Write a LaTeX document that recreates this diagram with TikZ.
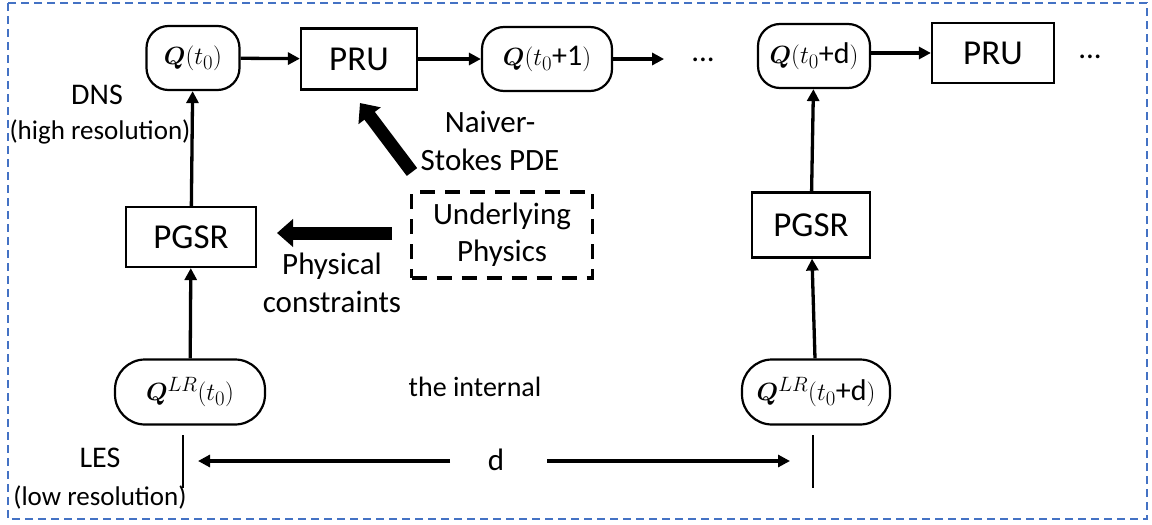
\documentclass[tikz,border=0pt]{standalone}
\usepackage{amsmath,bm}
\usepackage{fontspec}
\setmainfont{Carlito}
\usetikzlibrary{arrows.meta}
\definecolor{frameblue}{HTML}{4472C4}
\tikzset{
  state/.style={draw, line width=2.2pt, rounded corners=22pt, inner sep=0pt,
    font=\fontsize{30}{32}\selectfont},
  lrstate/.style={state, rounded corners=30pt},
  unit/.style={draw, line width=2.2pt, inner sep=0pt, font=\fontsize{35}{37}\selectfont},
  physbox/.style={draw, line width=3.5pt, dash pattern=on 15pt off 10pt, inner sep=0pt,
    align=center, font=\fontsize{31}{37}\selectfont},
  lbl/.style={inner sep=0pt, align=center, font=\fontsize{31}{38}\selectfont},
  small/.style={inner sep=0pt, font=\fontsize{27}{29}\selectfont},
  flow/.style={line width=3.3pt, -{Triangle[length=12pt,width=12pt]}},
  bigflow/.style={line width=13pt, -{Triangle[length=16pt,width=27pt]}},
  tick/.style={line width=2pt},
}
\begin{document}
\begin{tikzpicture}[x=1pt,y=-1pt]
\useasboundingbox (0,0) rectangle (1152,525);
% outer frame
\draw[frameblue, line width=2pt, dash pattern=on 8pt off 5pt] (8,3) rectangle (1147,519);

% high-resolution chain
\node[state, minimum width=93pt, minimum height=64pt] (q0) at (193,58) {$\bm{Q}(t_0)$};
\node[unit, minimum width=116pt, minimum height=61pt] (pru1) at (359,59) {PRU};
\node[state, minimum width=130pt, minimum height=64pt] (q1) at (547,59) {$\bm{Q}(t_0\text{+1})$};
\node[lbl] (dots1) at (703,60) {...};
\node[state, minimum width=112pt, minimum height=64pt] (qd) at (814,56) {$\bm{Q}(t_0\text{+d})$};
\node[unit, minimum width=122pt, minimum height=60pt] (pru2) at (993,53) {PRU};
\node[lbl] (dots2) at (1090,57) {...};

% super-resolution blocks
\node[unit, minimum width=130pt, minimum height=60pt] (pgsr1) at (191,237) {PGSR};
\node[unit, minimum width=118pt, minimum height=65pt] (pgsr2) at (811,225) {PGSR};

% low-resolution inputs
\node[lrstate, minimum width=150pt, minimum height=65pt] (lr0) at (190,392) {$\bm{Q}^{LR}(t_0)$};
\node[lrstate, minimum width=148pt, minimum height=65pt] (lrd) at (816,392) {$\bm{Q}^{LR}(t_0\text{+d})$};

% physics source
\node[physbox, minimum width=181pt, minimum height=86pt] (phys) at (502,235) {Underlying\\Physics};

% labels
\node[lbl, font=\fontsize{30}{32}\selectfont] (dns) at (97,95) {DNS};
\node[small] (hr) at (100,132) {(high resolution)};
\node[lbl, font=\fontsize{30}{32}\selectfont] (les) at (100,458) {LES};
\node[small] (lres) at (100,497) {(low resolution)};
\node[lbl] (ns) at (490,141) {Naiver-\\Stokes PDE};
\node[lbl] (pc) at (332,283) {Physical\\constraints};
\node[lbl, font=\fontsize{28}{30}\selectfont] (internal) at (475,387) {the internal};
\node[lbl] (d) at (496,460) {d};

% interval ticks
\coordinate (tlT) at (183,435); \coordinate (tlB) at (183,488);
\coordinate (trT) at (813,435); \coordinate (trB) at (813,488);
\coordinate (tl) at (183,461); \coordinate (tr) at (813,461);
\draw[tick] (tlT) -- (tlB);
\draw[tick] (trT) -- (trB);

% chain arrows
\draw[flow] (q0) -- (pru1);
\draw[flow] (pru1) -- (q1);
\draw[flow] (q1.east) -- ++(51,0) coordinate (q1out);
\draw[flow] (qd.east |- pru2.west) -- (pru2.west);
\draw[flow] (pgsr1) -- (q0);
\draw[flow] (lr0) -- (pgsr1);
\draw[flow] (pgsr2) -- (qd);
\draw[flow] (lrd) -- (pgsr2);

% physics arrows
\coordinate (physL) at (392,233);
\coordinate (physTL) at (412,172);
\coordinate (pgsrIn) at (277,233);
\coordinate (pruIn) at (360,103);
\draw[bigflow] (physL) -- (pgsrIn);
\draw[bigflow] (physTL) -- (pruIn);

% interval arrows
\coordinate (dl) at (450,461);
\coordinate (dr) at (547,461);
\draw[flow] (dl) -- ([xshift=15pt]tl);
\draw[flow] (dr) -- ([xshift=-23pt]tr);
\end{tikzpicture}
\end{document}
